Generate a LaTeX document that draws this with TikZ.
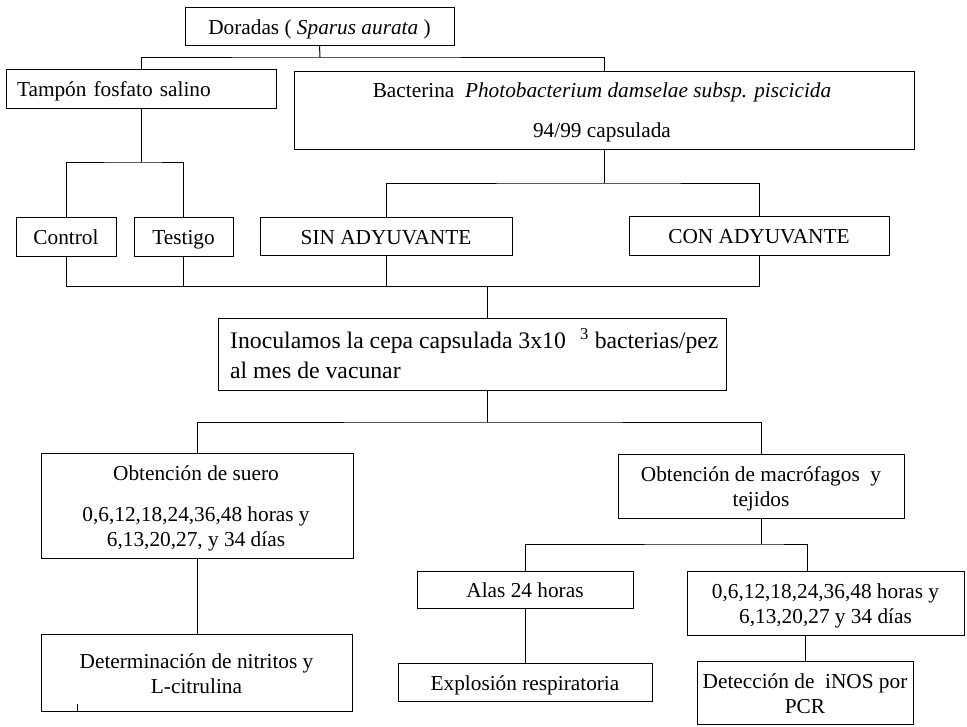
\documentclass[tikz,border=0pt]{standalone}
\usepackage{fontspec}
\setmainfont{Liberation Serif}
\newcommand\boxfont{\fontsize{21.3}{25}\selectfont}
\newcommand\bigboxfont{\fontsize{23.7}{30}\selectfont}
\begin{document}
\begin{tikzpicture}[x=1pt,y=-1pt,
  box/.style={draw,line width=1pt,inner sep=0pt,align=center,font=\boxfont},
  one/.style={text height=18pt,text depth=2pt},
  txt/.style={inner sep=0pt,align=center,font=\boxfont},
  link/.style={line width=1pt}]
\useasboundingbox[fill=white] (0,0) rectangle (967,726);
% single-line boxes
\node[box,one,minimum width=269pt,minimum height=38pt] (dor) at (319.5,26) {Doradas ( \textit{Sparus aurata} )};
\node[box,one,inner xsep=11pt,text width=248pt,align=left,minimum height=39pt] (tam) at (141,88.5) {Tampón fosfato salino};
\node[box,one,minimum width=100pt,minimum height=39pt] (ctl) at (66,236.5) {Control};
\node[box,one,minimum width=99pt,minimum height=39pt] (tes) at (183.5,236.5) {Testigo};
\node[box,one,minimum width=252pt,minimum height=38pt] (sin) at (386,236) {SIN ADYUVANTE};
\node[box,one,minimum width=260pt,minimum height=39pt] (con) at (759,235.5) {CON ADYUVANTE};
\node[box,one,minimum width=216pt,minimum height=37pt] (ala) at (525,589.5) {Alas 24 horas};
\node[box,one,minimum width=254pt,minimum height=38pt] (exp) at (525,682) {Explosión respiratoria};
% multi-line boxes: frame and text
\node[box,minimum width=620pt,minimum height=78pt] (bac) at (604,110) {};
\node[txt] (bact) at (602,112.5) {Bacterina\ \ \textit{Photobacterium damselae subsp. piscicida}\\[15pt]94/99 capsulada};
\node[box,minimum width=508pt,minimum height=72pt] (ino) at (472,354) {};
\node[txt,font=\bigboxfont,align=left,anchor=west] (inot) at (230,353.5) {Inoculamos la cepa capsulada 3x10\hspace{0.6em}\textsuperscript{3} bacterias/pez\\al mes de vacunar};
\node[box,minimum width=312pt,minimum height=105pt] (sue) at (197,505.5) {};
\node[txt] (suet) at (196,508.5) {Obtención de suero\\[16pt]0,6,12,18,24,36,48 horas y\\6,13,20,27, y 34 días};
\node[box,minimum width=286pt,minimum height=64pt] (mac) at (761,486) {};
\node[txt] (mact) at (761,488.5) {Obtención de macrófagos\ \ y\\tejidos};
\node[box,minimum width=311pt,minimum height=77pt] (det) at (196.5,672.5) {};
\node[txt] (dett) at (196.5,673.5) {Determinación de nitritos y\\L-citrulina};
\node[box,minimum width=277pt,minimum height=64pt] (tim) at (825.5,603) {};
\node[txt] (timt) at (825.5,605.5) {0,6,12,18,24,36,48 horas y\\6,13,20,27 y 34 días};
\node[box,minimum width=216pt,minimum height=63pt] (pcr) at (805,692.5) {};
\node[txt] (pcrt) at (805,694) {Detección de\ \ iNOS por\\PCR};
% junction points
\coordinate (j1) at (320,57);
\coordinate (j2) at (141,162);
\coordinate (j3) at (604,183);
\coordinate (b1) at (66,286);
\coordinate (b4) at (759,286);
\coordinate (j4) at (487,286);
\coordinate (j5) at (487,422);
\coordinate (j6) at (761,544);
\coordinate (k) at (807,544);
% connectors
\draw[link] (dor.south) -- (j1);
\draw[link] (tam.north) |- (j1) -| (bac.north);
\draw[link] (tam.south) -- (j2);
\draw[link] (ctl.north) |- (j2) -| (tes.north);
\draw[link] (bac.south) -- (j3);
\draw[link] (sin.north) |- (j3) -| (con.north);
\draw[link] (ctl.south) -- (b1) -- (b4) -- (con.south);
\draw[link] (tes.south) -- (tes.south |- b1);
\draw[link] (sin.south) -- (sin.south |- b1);
\draw[link] (j4) -- (j4 |- ino.north);
\draw[link] (j4 |- ino.south) -- (j5);
\draw[link] (sue.north) |- (j5) -| (mac.north);
\draw[link] (sue.south) -- (sue.south |- det.north);
\draw[link] (mac.south) -- (j6);
\draw[link] (ala.north) |- (j6) -- (k) -- (k |- tim.north);
\draw[link] (ala.south) -- (exp.north);
\draw[link] (pcr.north |- tim.south) -- (pcr.north);
% small tick inside the lower left box
\draw[link] ([xshift=37pt]det.south west) -- ++(0,-8);
\end{tikzpicture}
\end{document}
